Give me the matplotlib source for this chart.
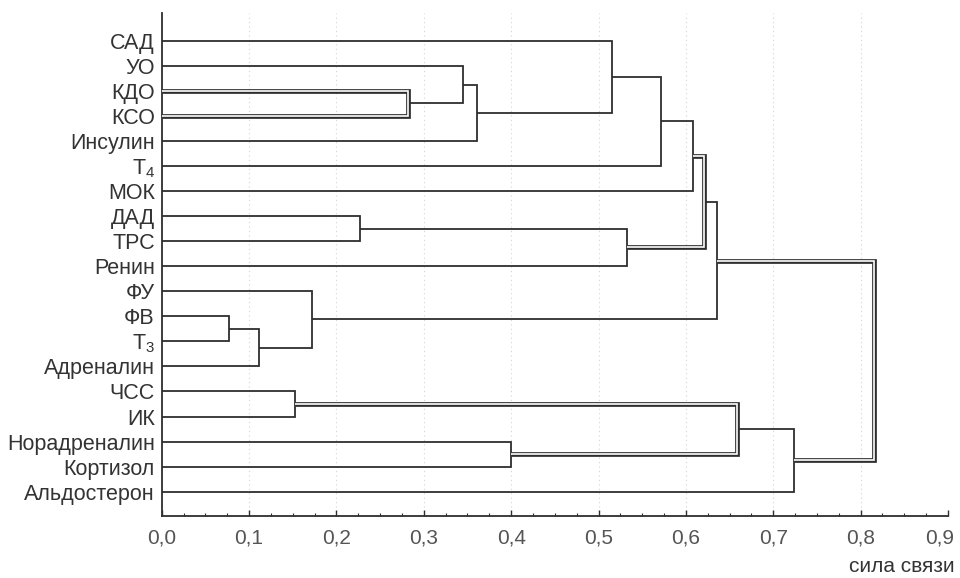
import numpy as np
import matplotlib
matplotlib.use('Agg')
import matplotlib.pyplot as plt
from matplotlib.ticker import MultipleLocator, FuncFormatter

plt.rcParams['font.family'] = ['Liberation Sans', 'DejaVu Sans']
plt.rcParams['mathtext.fontset'] = 'custom'
plt.rcParams['mathtext.rm'] = 'Liberation Sans'
plt.rcParams['mathtext.it'] = 'Liberation Sans'

# листья дендрограммы сверху вниз
LEAVES = ['САД', 'УО', 'КДО', 'КСО', 'Инсулин', 'Т$_4$', 'МОК', 'ДАД', 'ТРС',
          'Ренин', 'ФУ', 'ФВ', 'Т$_3$', 'Адреналин', 'ЧСС', 'ИК',
          'Норадреналин', 'Кортизол', 'Альдостерон']

# объединения: индексы < 19 - листья, дальше - кластеры по порядку (19, 20, ...)
MERGE_A = [2, 1, 20, 0, 22, 23, 7, 25, 24, 11, 28, 10, 27, 14, 16, 32, 34, 31]
MERGE_B = [3, 19, 4, 21, 5, 6, 8, 9, 26, 12, 13, 29, 30, 15, 17, 33, 18, 35]
MERGE_H = [0.282, 0.345, 0.361, 0.515, 0.572, 0.608, 0.227, 0.533, 0.621,
           0.077, 0.111, 0.172, 0.636, 0.153, 0.400, 0.659, 0.7235, 0.815]
# двойная линия (выделенные связи)
MERGE_DOUBLE = [True, False, False, False, False, False, False, False, True,
                False, False, False, False, False, False, True, False, True]

XMAX = 0.9
LINE = '#2e2e2e'

fig = plt.figure(figsize=(9.6, 5.78), dpi=100)
ax = fig.add_axes([161.7 / 960, 62 / 578, (948 - 161.7) / 960, (516 - 13) / 578])

n = len(LEAVES)
pos = {i: (0.0, float(i)) for i in range(n)}

for k, (a, b, h, dbl) in enumerate(zip(MERGE_A, MERGE_B, MERGE_H, MERGE_DOUBLE)):
    xa, ya = pos[a]
    xb, yb = pos[b]
    xs = [xa, h, h, xb]
    ys = [ya, ya, yb, yb]
    if dbl:
        ax.plot(xs, ys, color=LINE, lw=3.4, solid_joinstyle='miter',
                solid_capstyle='butt', zorder=3)
        ax.plot(xs, ys, color='white', lw=1.2, solid_joinstyle='miter',
                solid_capstyle='butt', zorder=4)
    else:
        ax.plot(xs, ys, color=LINE, lw=1.3, solid_joinstyle='miter',
                solid_capstyle='butt', zorder=3)
    pos[n + k] = (h, (ya + yb) / 2)

ax.set_xlim(0, XMAX)
ax.set_ylim(18.97, -1.105)

ax.set_yticks(range(n))
ax.set_yticklabels(LEAVES, fontsize=15.5, color='#333333')
ax.tick_params(axis='y', length=0, pad=5)


def fmt(v, p):
    # крайнюю подпись рисуем отдельно, со сдвигом от края
    if abs(v - XMAX) < 1e-6:
        return ''
    return f'{v:.1f}'.replace('.', ',')


ax.xaxis.set_major_locator(MultipleLocator(0.1))
ax.xaxis.set_minor_locator(MultipleLocator(0.025))
ax.xaxis.set_major_formatter(FuncFormatter(fmt))
ax.tick_params(axis='x', which='major', direction='in', length=4, width=1,
               color=LINE, labelsize=15, labelcolor='#555555', pad=9)
ax.tick_params(axis='x', which='minor', direction='in', length=2, width=0.8,
               color=LINE)

ax.annotate(f'{XMAX:.1f}'.replace('.', ','), xy=(XMAX, 0),
            xycoords=('data', 'axes fraction'), xytext=(-6, -9),
            textcoords='offset points', ha='center', va='top',
            fontsize=15, color='#555555', annotation_clip=False)

# бледная пунктирная сетка
for v in np.arange(0.1, 0.85, 0.1):
    ax.axvline(v, color='#d4d4d4', lw=0.8, ls=(0, (1, 3)), zorder=1)

for side in ['top', 'right']:
    ax.spines[side].set_visible(False)
for side in ['left', 'bottom']:
    ax.spines[side].set_color(LINE)
    ax.spines[side].set_linewidth(1.3)

fig.text(955 / 960, 1 - 566 / 578, 'сила связи', ha='right', va='center',
         fontsize=15, color='#333333')

fig.savefig('out.png', dpi=100)
